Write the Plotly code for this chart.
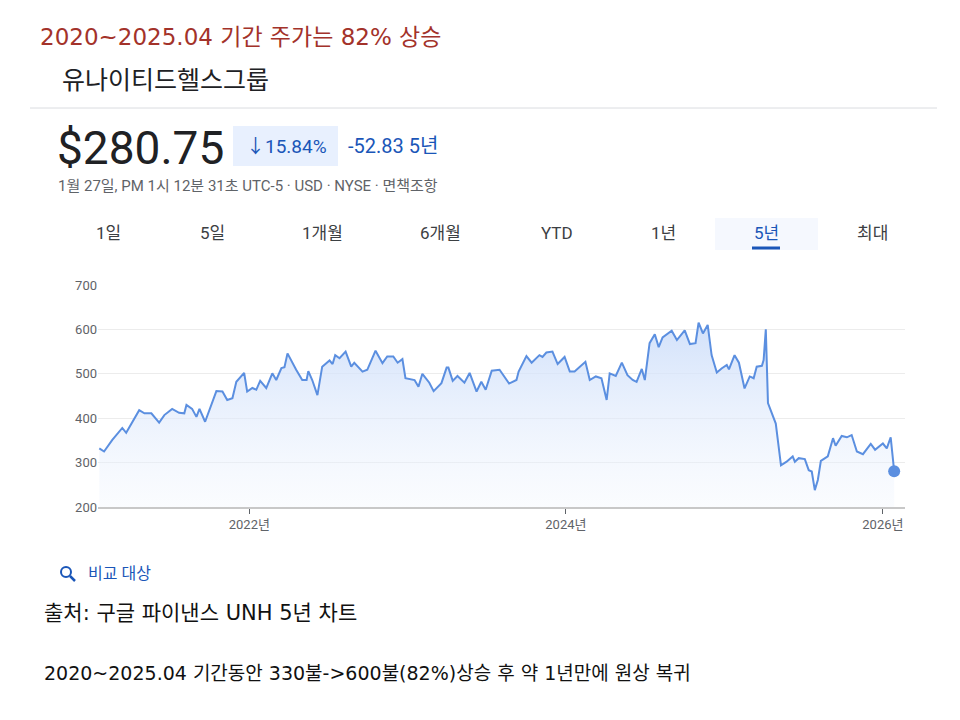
import plotly.graph_objects as go

# UNH 5-year price
dates = [
    '2021-01-20', '2021-01-31', '2021-02-19', '2021-03-14', '2021-03-23', '2021-04-11', '2021-04-22',
    '2021-05-04', '2021-05-20', '2021-06-07', '2021-06-19', '2021-07-07', '2021-07-23', '2021-08-04',
    '2021-08-09', '2021-08-22', '2021-09-01', '2021-09-08', '2021-09-21', '2021-10-17', '2021-10-31',
    '2021-11-11', '2021-11-23', '2021-12-02', '2021-12-20', '2021-12-27', '2022-01-08', '2022-01-17',
    '2022-01-26', '2022-02-09', '2022-02-23', '2022-03-04', '2022-03-16', '2022-03-23', '2022-03-30',
    '2022-04-19', '2022-05-03', '2022-05-13', '2022-05-17', '2022-05-26', '2022-06-07', '2022-06-18',
    '2022-07-05', '2022-07-12', '2022-07-18', '2022-07-28', '2022-08-11', '2022-08-24', '2022-08-31',
    '2022-09-19', '2022-09-30', '2022-10-19', '2022-11-04', '2022-11-15', '2022-11-29', '2022-12-09',
    '2022-12-20', '2022-12-27', '2023-01-17', '2023-01-26', '2023-02-04', '2023-02-20', '2023-03-02',
    '2023-03-20', '2023-04-01', '2023-04-05', '2023-04-15', '2023-04-26', '2023-05-12', '2023-05-24',
    '2023-06-09', '2023-06-20', '2023-06-30', '2023-07-14', '2023-08-01', '2023-08-23', '2023-09-09',
    '2023-09-14', '2023-10-02', '2023-10-14', '2023-11-01', '2023-11-08', '2023-11-17', '2023-12-01',
    '2023-12-13', '2023-12-29', '2024-01-10', '2024-01-21', '2024-02-15', '2024-02-25', '2024-03-10',
    '2024-03-23', '2024-04-04', '2024-04-11', '2024-04-25', '2024-05-09', '2024-05-22', '2024-06-03',
    '2024-06-12', '2024-06-24', '2024-07-01', '2024-07-12', '2024-07-24', '2024-08-02', '2024-08-11',
    '2024-09-01', '2024-09-13', '2024-10-01', '2024-10-13', '2024-10-26', '2024-11-02', '2024-11-12',
    '2024-11-23', '2024-12-02', '2024-12-14', '2024-12-25', '2025-01-06', '2025-01-11', '2025-01-24',
    '2025-02-03', '2025-02-16', '2025-02-28', '2025-03-09', '2025-03-16', '2025-03-28', '2025-04-01',
    '2025-04-06', '2025-04-11', '2025-04-29', '2025-05-11', '2025-05-24', '2025-06-07', '2025-06-12',
    '2025-06-21', '2025-07-05', '2025-07-14', '2025-07-21', '2025-07-28', '2025-08-04', '2025-08-11',
    '2025-08-27', '2025-09-08', '2025-09-14', '2025-09-28', '2025-10-10', '2025-10-21', '2025-11-02',
    '2025-11-16', '2025-11-25', '2025-12-04', '2025-12-14', '2026-01-01', '2026-01-10', '2026-01-19',
    '2026-01-27',
]
prices = [
    332, 325, 351, 378, 367, 400, 418, 411, 411, 390, 407, 421, 412, 411,
    430, 421, 403, 421, 392, 461, 460, 441, 445, 482, 502, 460, 468, 464,
    484, 468, 501, 486, 513, 515, 546, 509, 486, 486, 506, 486, 452, 516,
    530, 522, 542, 535, 550, 516, 525, 505, 509, 552, 524, 539, 539, 525,
    533, 490, 486, 471, 500, 480, 461, 479, 514, 514, 484, 495, 480, 502,
    460, 482, 464, 507, 509, 478, 486, 505, 540, 525, 542, 538, 548, 550,
    522, 538, 505, 505, 527, 486, 494, 490, 441, 501, 495, 525, 497, 486,
    482, 511, 486, 569, 589, 560, 582, 597, 576, 598, 567, 569, 615, 591,
    610, 542, 503, 512, 520, 510, 542, 525, 467, 494, 490, 516, 518, 531,
    600, 434, 388, 294, 302, 314, 302, 310, 308, 283, 280, 238, 261, 304,
    314, 355, 338, 360, 357, 362, 325, 319, 332, 342, 329, 343, 332, 357,
    280.75,
]

tabs = ['1일', '5일', '1개월', '6개월', 'YTD', '1년', '5년', '최대']
tab_x = [108, 212, 322, 440, 557, 663, 766, 872]

OFF = 8  # page offset of the plot div
L, R, T, B = 98 - OFF, 905 - OFF, 285 - OFF, 507 - OFF  # plot area in figure pixels
KR = 'Roboto, Noto Sans CJK KR, sans-serif'
KR2 = 'DejaVu Sans, Noto Sans CJK KR, sans-serif'


def px(x, y):
    # reference-screen pixels -> paper coordinates
    return (x - OFF - L) / (R - L), (B - (y - OFF)) / (B - T)


fig = go.Figure()
fig.add_trace(go.Scatter(
    x=dates, y=prices, mode='lines',
    line=dict(color='#5b8fe0', width=2),
    fill='tozeroy',
    fillgradient=dict(type='vertical',
                      colorscale=[[0, 'rgba(255,255,255,0)'], [1, 'rgba(205,222,250,0.9)']]),
    hoverinfo='skip',
))
fig.add_trace(go.Scatter(x=[dates[-1]], y=[prices[-1]], mode='markers',
                         marker=dict(color='#5b8fe0', size=12), hoverinfo='skip'))

ann = []


def text(x, y, s, size, color, font=KR, xanchor='left'):
    ax, ay = px(x, y)
    ann.append(dict(x=ax, y=ay, xref='paper', yref='paper', text=s, showarrow=False,
                    xanchor=xanchor, yanchor='middle', xshift=0,
                    font=dict(size=size, color=color, family=font)))


text(38, 37, '2020~2025.04 기간 주가는 82% 상승', 23, '#a3322a', KR2)
text(60, 78, '유나이티드헬스그룹', 25, '#202124', 'Noto Sans CJK KR')
text(55, 148, '$280.75', 46, '#202124')
text(286, 146, '↓15.84%', 19, '#1a56b8', xanchor='center')
text(346, 146, '-52.83 5년', 20, '#1a56b8')
text(56, 186, '1월 27일, PM 1시 12분 31초 UTC-5 · USD · NYSE · 면책조항', 15, '#5f6368')
for t, x in zip(tabs, tab_x):
    text(x, 233, t, 17, '#1a56b8' if t == '5년' else '#3c4043', xanchor='center')
text(86, 573, '비교 대상', 16, '#1a56b8')
text(42, 613, '출처: 구글 파이낸스 UNH 5년 차트', 21, '#111111', KR2)
text(42, 673, '2020~2025.04 기간동안 330불->600불(82%)상승 후 약 1년만에 원상 복귀', 19, '#111111', KR2)


def rect(x0, y0, x1, y1, **kw):
    a0, b0 = px(x0, y0)
    a1, b1 = px(x1, y1)
    return dict(type='rect', xref='paper', yref='paper', x0=a0, y0=b0, x1=a1, y1=b1, layer='below', **kw)


def seg(x0, y0, x1, y1, color, width):
    a0, b0 = px(x0, y0)
    a1, b1 = px(x1, y1)
    return dict(type='line', xref='paper', yref='paper', x0=a0, y0=b0, x1=a1, y1=b1,
                line=dict(color=color, width=width))


c0 = px(61, 567)
c1 = px(71, 577)
shapes = [
    seg(30, 108, 937, 108, '#dadce0', 1),
    rect(233, 126, 338, 166, fillcolor='#e8f0fe', line=dict(width=0)),
    rect(715, 218, 818, 250, fillcolor='#f5f8fe', line=dict(width=0)),
    seg(752, 248, 780, 248, '#1a56b8', 3),
    dict(type='circle', xref='paper', yref='paper', x0=c0[0], y0=c0[1], x1=c1[0], y1=c1[1],
         line=dict(color='#1a56b8', width=2)),
    seg(70, 576, 75, 581, '#1a56b8', 2.5),
]

fig.update_layout(
    width=960, height=720,
    margin=dict(l=L, r=960 - R, t=T, b=720 - B),
    paper_bgcolor='white', plot_bgcolor='white',
    showlegend=False,
    annotations=ann, shapes=shapes,
    xaxis=dict(range=['2021-01-17', '2026-02-21'], showgrid=False,
               tickvals=['2022-01-01', '2024-01-01', '2026-01-01'],
               ticktext=['2022년', '2024년', '2026년'],
               ticks='outside', ticklen=5, tickcolor='#5f6368',
               showline=True, linecolor='#c8c8c8', linewidth=1.5,
               tickfont=dict(size=13, color='#5f6368', family=KR), fixedrange=True),
    yaxis=dict(range=[200, 700], tickvals=[200, 300, 400, 500, 600, 700],
               gridcolor='#ececec', zeroline=False, showline=False,
               tickfont=dict(size=13, color='#5f6368', family=KR), fixedrange=True),
)

fig.write_html('out.html')
